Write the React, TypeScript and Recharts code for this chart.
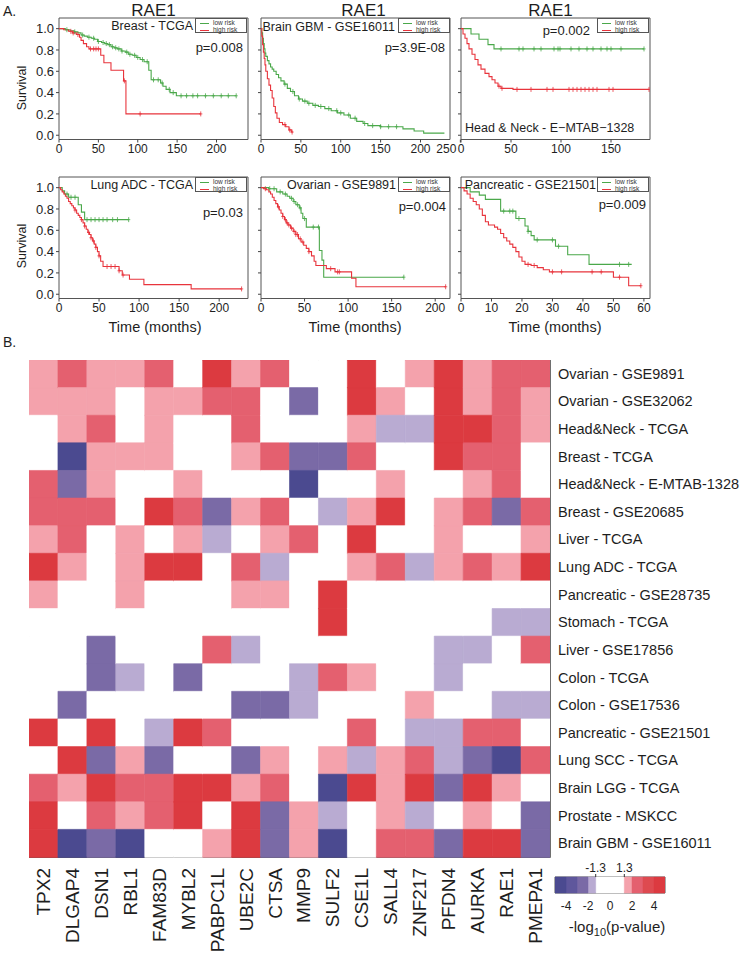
import React from "react";
import {
  ComposedChart,
  BarChart,
  Bar,
  Cell,
  Line,
  Scatter,
  XAxis,
  YAxis,
  ReferenceArea,
} from "recharts";

type Pt = [number, number];

const FONT = '"Liberation Sans", Arial, Helvetica, sans-serif';
const GREEN = "#4aa84a";
const RED = "#e8343c";

// ---- survival curves (time in months, survival fraction) ----
const brLow: Pt[] = [[0, 1], [8, 0.99], [14, 0.98], [19, 0.97], [24, 0.96], [28, 0.94], [32, 0.93], [36, 0.92], [41, 0.91], [45, 0.9], [49, 0.88], [54, 0.87], [58, 0.86], [62, 0.85], [66, 0.83], [70, 0.82], [74, 0.81], [79, 0.79], [84, 0.78], [88, 0.76], [93, 0.75], [98, 0.73], [103, 0.71], [108, 0.69], [114, 0.61], [117, 0.52], [129, 0.49], [132, 0.46], [136, 0.43], [141, 0.4], [149, 0.37], [225, 0.37]];
const brLowCens = [10, 20, 30, 38, 44, 50, 56, 60, 64, 68, 72, 76, 80, 86, 90, 96, 100, 106, 112, 120, 126, 131, 140, 145, 155, 162, 170, 176, 186, 196, 206, 215, 225];
const brHigh: Pt[] = [[0, 1], [6, 0.99], [12, 0.975], [17, 0.96], [22, 0.945], [26, 0.92], [28, 0.89], [31, 0.86], [35, 0.83], [38, 0.81], [53, 0.75], [57, 0.68], [66, 0.61], [82, 0.51], [85, 0.2], [180, 0.2]];
const brHighCens = [15, 18, 24, 40, 44, 47, 50, 83, 103, 180];

const gbmLow: Pt[] = [[0, 1], [1, 0.96], [2, 0.91], [3, 0.86], [4, 0.81], [5, 0.77], [6, 0.74], [8, 0.7], [10, 0.67], [12, 0.64], [14, 0.62], [16, 0.6], [19, 0.57], [22, 0.54], [25, 0.51], [29, 0.48], [33, 0.44], [37, 0.41], [42, 0.37], [47, 0.34], [52, 0.32], [58, 0.3], [65, 0.28], [72, 0.27], [80, 0.25], [88, 0.23], [96, 0.21], [104, 0.19], [112, 0.16], [120, 0.13], [128, 0.11], [134, 0.09], [150, 0.08], [178, 0.06], [192, 0.04], [204, 0.02], [230, 0.02]];
const gbmLowCens = [30, 40, 48, 55, 60, 68, 75, 85, 95, 100, 110, 118, 130, 140, 150, 160, 170];
const gbmHigh: Pt[] = [[0, 1], [1, 0.93], [2, 0.85], [3, 0.78], [4, 0.72], [5, 0.66], [6, 0.6], [8, 0.53], [10, 0.47], [12, 0.42], [14, 0.35], [16, 0.27], [18, 0.21], [20, 0.16], [23, 0.12], [27, 0.1], [31, 0.08], [35, 0.05], [38, 0.03], [40, 0.03]];
const gbmHighCens = [30, 36, 39];

const hnLow: Pt[] = [[0, 1], [10, 0.95], [18, 0.9], [27, 0.85], [33, 0.81], [183, 0.81]];
const hnLowCens = [40, 58, 62, 73, 80, 93, 97, 99, 110, 118, 126, 132, 140, 146, 150, 160, 183];
const hnHigh: Pt[] = [[0, 1], [2, 0.95], [4, 0.91], [6, 0.86], [8, 0.81], [11, 0.76], [14, 0.71], [17, 0.66], [20, 0.62], [24, 0.58], [28, 0.55], [31, 0.52], [34, 0.49], [37, 0.46], [40, 0.44], [52, 0.43], [188, 0.43]];
const hnHighCens = [38, 41, 56, 70, 86, 92, 108, 112, 116, 120, 124, 128, 132, 136, 148, 152, 188];

const luLow: Pt[] = [[0, 1], [4, 0.97], [7, 0.94], [12, 0.91], [24, 0.84], [28, 0.77], [32, 0.7], [87, 0.7]];
const luLowCens = [10, 15, 20, 35, 40, 45, 50, 55, 60, 67, 73, 87];
const luHigh: Pt[] = [[0, 1], [2, 0.98], [4, 0.96], [6, 0.94], [8, 0.92], [10, 0.9], [12, 0.87], [14, 0.85], [16, 0.83], [18, 0.81], [20, 0.79], [22, 0.76], [24, 0.74], [26, 0.72], [28, 0.7], [30, 0.67], [32, 0.64], [34, 0.61], [36, 0.58], [38, 0.56], [40, 0.53], [42, 0.5], [44, 0.47], [46, 0.44], [48, 0.4], [50, 0.36], [52, 0.31], [55, 0.26], [75, 0.22], [79, 0.18], [88, 0.14], [106, 0.09], [165, 0.05], [228, 0.05]];
const luHighCens = [20, 28, 32, 37, 40, 43, 46, 50, 60, 65, 70, 75, 80, 228];

const ovLow: Pt[] = [[0, 1], [9, 0.99], [18, 0.96], [25, 0.94], [30, 0.92], [33, 0.9], [37, 0.87], [40, 0.84], [44, 0.81], [46, 0.76], [48, 0.71], [52, 0.63], [67, 0.41], [70, 0.32], [72, 0.16], [164, 0.16]];
const ovLowCens = [10, 15, 22, 28, 35, 38, 42, 45, 50, 60, 66, 164];
const ovHigh: Pt[] = [[0, 1], [3, 0.99], [6, 0.98], [9, 0.96], [11, 0.94], [13, 0.91], [15, 0.88], [17, 0.85], [19, 0.82], [21, 0.79], [23, 0.76], [25, 0.73], [27, 0.7], [29, 0.67], [31, 0.65], [34, 0.62], [37, 0.59], [40, 0.56], [43, 0.52], [46, 0.49], [49, 0.46], [52, 0.43], [55, 0.4], [58, 0.36], [61, 0.31], [63, 0.27], [75, 0.24], [85, 0.21], [104, 0.15], [109, 0.07], [212, 0.07]];
const ovHighCens = [5, 20, 25, 28, 30, 32, 35, 38, 40, 42, 45, 48, 55, 80, 88, 90, 212];

const paLow: Pt[] = [[0, 1], [3, 0.96], [6, 0.93], [8, 0.89], [13, 0.78], [18, 0.71], [21, 0.64], [22, 0.59], [23, 0.55], [24, 0.51], [31, 0.45], [35, 0.37], [42, 0.28], [56, 0.28]];
const paLowCens = [14, 16, 17, 19, 22, 25, 30, 32, 52, 55];
const paHigh: Pt[] = [[0, 1], [1, 0.97], [2, 0.94], [3, 0.9], [4, 0.87], [5, 0.84], [6, 0.8], [7, 0.74], [8, 0.68], [9, 0.65], [11, 0.63], [12, 0.61], [13, 0.57], [14, 0.53], [15, 0.5], [16, 0.47], [17, 0.44], [18, 0.4], [19, 0.35], [20, 0.31], [21, 0.28], [23, 0.27], [25, 0.25], [27, 0.23], [29, 0.21], [50, 0.16], [55, 0.08], [59, 0.08]];
const paHighCens = [22, 24, 30, 33, 43, 46, 52, 59];

const survTicks = [0, 0.2, 0.4, 0.6, 0.8, 1.0];

// ---- heatmap ----
const genes = ["TPX2", "DLGAP4", "DSN1", "RBL1", "FAM83D", "MYBL2", "PABPC1L", "UBE2C", "CTSA", "MMP9", "SULF2", "CSE1L", "SALL4", "ZNF217", "PFDN4", "AURKA", "RAE1", "PMEPA1"];
const datasets = ["Ovarian - GSE9891", "Ovarian - GSE32062", "Head&Neck - TCGA", "Breast - TCGA", "Head&Neck - E-MTAB-1328", "Breast - GSE20685", "Liver - TCGA", "Lung ADC - TCGA", "Pancreatic - GSE28735", "Stomach - TCGA", "Liver - GSE17856", "Colon - TCGA", "Colon - GSE17536", "Pancreatic - GSE21501", "Lung SCC - TCGA", "Brain LGG - TCGA", "Prostate - MSKCC", "Brain GBM - GSE16011"];
// binned signed -log10(p): -3 strong protective ... 3 strong risk
const heat: number[][] = [
  [1, 2, 1, 1, 2, 0, 3, 1, 2, 0, 0, 3, 0, 1, 3, 1, 2, 2],
  [1, 1, 1, 0, 1, 1, 2, 2, 0, -2, 0, 3, 1, 0, 3, 1, 2, 1],
  [0, 1, 2, 0, 1, 0, 0, 2, 0, 0, 0, 1, -1, -1, 3, 3, 2, 1],
  [0, -3, 1, 1, 1, 0, 0, 1, 2, -2, -2, 2, 0, 0, 3, 2, 2, 0],
  [2, -2, 1, 0, 0, 1, 0, 0, 0, -3, 0, 0, 1, 0, 0, 1, 2, 0],
  [2, 2, 2, 0, 3, 2, -2, 1, 2, 0, -1, 1, 3, 0, 1, 2, -2, 2],
  [1, 2, 0, 1, 0, 1, -1, 0, 1, 2, 0, 3, 0, 0, 1, 0, 0, 1],
  [3, 1, 0, 1, 3, 3, 0, 2, -1, 0, 0, 1, 2, -1, 1, 2, 1, 3],
  [1, 0, 0, 1, 0, 0, 0, 1, 1, 0, 3, 0, 0, 0, 0, 0, 0, 0],
  [0, 0, 0, 0, 0, 0, 0, 0, 0, 0, 3, 0, 0, 0, 0, 0, -1, -1],
  [0, 0, -2, 0, 0, 0, 2, -1, 0, 0, 0, 0, 0, 0, -1, -1, 0, 2],
  [0, 0, -2, -1, 0, -2, 0, 0, 0, -1, 2, 1, 0, 0, -1, 0, 0, 0],
  [0, -2, 0, 0, 0, 0, 0, -2, -2, -1, 0, 0, 0, 1, 0, 0, -1, -1],
  [3, 0, 3, 0, -1, 3, 2, 0, 0, 0, 0, 2, 0, -1, -1, 2, 2, 0],
  [0, 3, -2, 1, -2, 0, 0, -2, 1, 0, 1, -1, 1, 2, -1, -2, -3, 2],
  [2, 1, 3, 2, 2, 3, 3, 1, 2, 0, -3, 3, 1, 3, -2, 3, 1, 0],
  [3, 0, 2, 1, 2, 3, 0, 3, -2, 1, -1, 0, 1, -1, 0, 1, 0, -2],
  [3, -3, -2, -3, 0, 0, 1, 3, -2, 1, -3, 0, 2, 2, -2, 3, 3, -2],
];
const levelColors: Record<string, string> = {
  "-3": "#4b4a90",
  "-2": "#7a6aa6",
  "-1": "#b9abd2",
  "0": "#ffffff",
  "1": "#f4a2ac",
  "2": "#e4606f",
  "3": "#dc3a40",
};

// colour key, bins stacked outward from 0
const cbNegEdges = [0, -1.3, -2, -3, -4, -5];
const cbNegColors = ["#ffffff", "#b9abd2", "#7a6aa6", "#5f579c", "#4b4a90"];
const cbPosEdges = [0, 1.3, 2, 3, 4, 5];
const cbPosColors = ["#ffffff", "#f4a2ac", "#e4606f", "#de4a50", "#dc3a40"];

const toObj = (pts: Pt[]) => pts.map(([t, s]) => ({ t, s }));
const stepAt = (pts: Pt[], t: number) => {
  let s = pts[0][1];
  for (const p of pts) if (p[0] <= t) s = p[1];
  return s;
};

const plus = (color: string) => (props: any) => {
  const { cx, cy } = props;
  if (cx == null || cy == null) return <g />;
  return (
    <path
      d={`M${cx},${cy - 2.5}V${cy + 2.5}M${cx - 1.6},${cy}H${cx + 1.6}`}
      stroke={color}
      strokeWidth={0.8}
      fill="none"
    />
  );
};

function T({ x, y, size = 12, anchor = "middle", children, style }: any) {
  const tx = anchor === "middle" ? "-50%" : anchor === "end" ? "-100%" : "0";
  return (
    <div
      style={{
        position: "absolute",
        left: x,
        top: y,
        fontSize: size,
        lineHeight: 1,
        whiteSpace: "nowrap",
        color: "#1e1e1e",
        transform: `translate(${tx}, -50%)`,
        ...style,
      }}
    >
      {children}
    </div>
  );
}

function RiskLegend({ x, y }: { x: number; y: number }) {
  const row = (c: string, label: string) => (
    <div style={{ display: "flex", alignItems: "center", height: 7 }}>
      <span style={{ display: "inline-block", width: 9, height: 0, borderTop: `1px solid ${c}`, margin: "0 4px 0 4px" }} />
      <span>{label}</span>
    </div>
  );
  return (
    <div
      style={{
        position: "absolute",
        left: x,
        top: y,
        width: 52,
        height: 15,
        border: "1px solid #555",
        background: "#fff",
        fontSize: 6.5,
        lineHeight: 1,
        color: "#333",
        paddingTop: 0.5,
        boxSizing: "border-box",
      }}
    >
      {row(GREEN, "low risk")}
      {row(RED, "high risk")}
    </div>
  );
}

// tick beyond the frame (the 250 of the GBM panel) is right-aligned so it
// sits next to the neighbour's 0 as in the original figure
function TimeTick({ x, y, payload, max }: any) {
  const over = payload.value > max;
  return (
    <text x={over ? x - 4 : x} y={y} dy="0.71em" textAnchor={over ? "end" : "middle"} fontSize={12} fill="#1e1e1e">
      {payload.value}
    </text>
  );
}

function KM({ x, y, w = 189, h = 121.5, domain, ticks, low, lowCens, high, highCens, yLabels }: any) {
  const YW = 45, MT = 5, MR = 22, XH = 22;
  const lowC = lowCens.map((t: number) => ({ t, s: stepAt(low, t) }));
  const highC = highCens.map((t: number) => ({ t, s: stepAt(high, t) }));
  return (
    <div style={{ position: "absolute", left: x - YW, top: y - MT }}>
      <ComposedChart width={YW + w + MR} height={MT + h + XH} margin={{ top: MT, right: MR, bottom: 0, left: 0 }}>
        <XAxis
          type="number"
          dataKey="t"
          domain={domain}
          ticks={ticks}
          allowDataOverflow
          interval={0}
          height={XH}
          axisLine={false}
          tickSize={3}
          tickLine={{ stroke: "#444" }}
          tick={(p: any) => <TimeTick {...p} max={domain[1]} />}
        />
        <YAxis
          type="number"
          dataKey="s"
          domain={[-0.04, 1.1]}
          ticks={survTicks}
          allowDataOverflow
          interval={0}
          width={YW}
          axisLine={false}
          tickSize={3}
          tickLine={{ stroke: "#444" }}
          tick={{ fontSize: 13, fill: "#1e1e1e" }}
          tickFormatter={(v: number) => (yLabels ? v.toFixed(1) : "")}
        />
        <ReferenceArea x1={domain[0]} x2={domain[1]} y1={-0.04} y2={1.1} fill="none" stroke="#555" strokeWidth={1} ifOverflow="visible" />
        <Line data={toObj(low)} dataKey="s" type="stepAfter" stroke={GREEN} strokeWidth={1.1} dot={false} activeDot={false} isAnimationActive={false} />
        <Line data={toObj(high)} dataKey="s" type="stepAfter" stroke={RED} strokeWidth={1.1} dot={false} activeDot={false} isAnimationActive={false} />
        <Scatter data={lowC} dataKey="s" shape={plus(GREEN)} isAnimationActive={false} />
        <Scatter data={highC} dataKey="s" shape={plus(RED)} isAnimationActive={false} />
      </ComposedChart>
    </div>
  );
}

function GeneTick({ x, y, payload }: any) {
  const i = Math.floor(payload.value);
  const yy = y + 3;
  return (
    <text x={x} y={yy} transform={`rotate(-90, ${x}, ${yy})`} textAnchor="end" dominantBaseline="central" fontSize={19} fill="#1e1e1e">
      {genes[i]}
    </text>
  );
}

function RowTick({ x, y, payload }: any) {
  return (
    <text x={x} y={y} textAnchor="start" dominantBaseline="central" fontSize={14.5} fill="#1e1e1e">
      {payload.value}
    </text>
  );
}

export default function App() {
  const heatData = datasets.map((name) => {
    const o: any = { name };
    genes.forEach((g) => (o[g] = 1));
    return o;
  });
  const geneTicks = genes.map((_, i) => i + 0.5);

  const cbKeys: { key: string; color: string }[] = [];
  const cbRow: any = { name: "key" };
  cbNegColors.forEach((c, i) => {
    cbRow["n" + i] = cbNegEdges[i + 1] - cbNegEdges[i];
    cbKeys.push({ key: "n" + i, color: c });
  });
  cbPosColors.forEach((c, i) => {
    cbRow["p" + i] = cbPosEdges[i + 1] - cbPosEdges[i];
    cbKeys.push({ key: "p" + i, color: c });
  });

  const W = 189;
  const c1 = 59, c2 = 261, c3 = 461;
  const r1 = 18, r2 = 177;

  return (
    <div style={{ position: "absolute", left: 0, top: 0, width: 746, height: 960, background: "#fff", overflow: "hidden", fontFamily: FONT }}>
      <T x={3} y={11} size={14} anchor="start">A.</T>
      <T x={c1 + W / 2} y={10} size={17}>RAE1</T>
      <T x={c2 + W / 2 + 8} y={10} size={17}>RAE1</T>
      <T x={c3 + W / 2 - 5} y={10} size={17}>RAE1</T>

      <KM x={c1} y={r1} domain={[0, 240]} ticks={[0, 50, 100, 150, 200]} low={brLow} lowCens={brLowCens} high={brHigh} highCens={brHighCens} yLabels />
      <KM x={c2} y={r1} domain={[0, 237]} ticks={[0, 50, 100, 150, 200, 250]} low={gbmLow} lowCens={gbmLowCens} high={gbmHigh} highCens={gbmHighCens} />
      <KM x={c3} y={r1} domain={[0, 189]} ticks={[0, 50, 100, 150]} low={hnLow} lowCens={hnLowCens} high={hnHigh} highCens={hnHighCens} />
      <KM x={c1} y={r2} domain={[0, 236]} ticks={[0, 50, 100, 150, 200]} low={luLow} lowCens={luLowCens} high={luHigh} highCens={luHighCens} yLabels />
      <KM x={c2} y={r2} domain={[0, 217]} ticks={[0, 50, 100, 150, 200]} low={ovLow} lowCens={ovLowCens} high={ovHigh} highCens={ovHighCens} />
      <KM x={c3} y={r2} domain={[0, 62]} ticks={[0, 10, 20, 30, 40, 50, 60]} low={paLow} lowCens={paLowCens} high={paHigh} highCens={paHighCens} />

      <RiskLegend x={c1 + W - 53} y={r1} />
      <RiskLegend x={c2 + W - 52} y={r1} />
      <RiskLegend x={c3 + W - 53} y={r1} />
      <RiskLegend x={c1 + W - 53} y={r2} />
      <RiskLegend x={c2 + W - 52} y={r2} />
      <RiskLegend x={c3 + W - 53} y={r2} />

      <T x={193} y={26} size={12.5} anchor="end">Breast - TCGA</T>
      <T x={395} y={27} size={12.5} anchor="end">Brain GBM - GSE16011</T>
      <T x={465} y={128} size={12.5} anchor="start">Head &amp; Neck - E−MTAB−1328</T>
      <T x={193} y={185} size={12.5} anchor="end">Lung ADC - TCGA</T>
      <T x={396} y={185} size={12.5} anchor="end">Ovarian - GSE9891</T>
      <T x={596} y={185} size={12.5} anchor="end">Pancreatic - GSE21501</T>

      <T x={243} y={47} size={13} anchor="end">p=0.008</T>
      <T x={445} y={47} size={13} anchor="end">p=3.9E-08</T>
      <T x={590} y={30} size={13} anchor="end">p=0.002</T>
      <T x={243} y={212} size={13} anchor="end">p=0.03</T>
      <T x={446} y={206} size={13} anchor="end">p=0.004</T>
      <T x={646} y={204} size={13} anchor="end">p=0.009</T>

      <T x={22} y={88} size={12.5} style={{ transform: "translate(-50%, -50%) rotate(-90deg)" }}>Survival</T>
      <T x={22} y={246} size={12.5} style={{ transform: "translate(-50%, -50%) rotate(-90deg)" }}>Survival</T>

      <T x={155} y={327} size={14.5}>Time (months)</T>
      <T x={355} y={327} size={14.5}>Time (months)</T>
      <T x={555} y={327} size={14.5}>Time (months)</T>

      <T x={3} y={342} size={14} anchor="start">B.</T>

      <div style={{ position: "absolute", left: 29, top: 360 }}>
        <BarChart
          layout="vertical"
          width={521 + 196}
          height={497 + 100}
          data={heatData}
          margin={{ top: 0, right: 0, bottom: 0, left: 0 }}
          barCategoryGap={0}
          barGap={0}
        >
          <XAxis type="number" domain={[0, 18]} ticks={geneTicks} interval={0} height={100} axisLine={false} tickLine={false} tick={<GeneTick />} allowDataOverflow />
          <YAxis type="category" dataKey="name" orientation="right" width={196} axisLine={false} tickLine={false} tick={<RowTick />} interval={0} />
          {genes.map((g, c) => (
            <Bar key={g} dataKey={g} stackId="h" isAnimationActive={false}>
              {datasets.map((_, r) => {
                const col = levelColors[String(heat[r][c])];
                return <Cell key={r} fill={col} stroke={col} strokeWidth={0.6} />;
              })}
            </Bar>
          ))}
          <ReferenceArea x1={0} x2={18} fill="none" stroke="#222" strokeWidth={1.3} ifOverflow="visible" />
        </BarChart>
      </div>

      <div style={{ position: "absolute", left: 535, top: 860 }}>
        <BarChart
          layout="vertical"
          width={150}
          height={52}
          data={[cbRow]}
          stackOffset="sign"
          barCategoryGap={0}
          margin={{ top: 0, right: 20, bottom: 0, left: 20 }}
        >
          <XAxis xAxisId="b" type="number" domain={[-5, 5]} ticks={[-4, -2, 0, 2, 4]} allowDataOverflow height={19} axisLine={false} tickLine={false} tick={{ fontSize: 12, fill: "#1e1e1e" }} interval={0} />
          <XAxis xAxisId="t" orientation="top" type="number" domain={[-5, 5]} ticks={[-1.3, 1.3]} allowDataOverflow height={17} axisLine={false} tickSize={3} tickLine={{ stroke: "#333" }} tick={{ fontSize: 12, fill: "#1e1e1e" }} interval={0} />
          <YAxis type="category" dataKey="name" hide />
          {cbKeys.map((k) => (
            <Bar key={k.key} xAxisId="b" dataKey={k.key} stackId="c" fill={k.color} stroke={k.color} strokeWidth={0.5} isAnimationActive={false} />
          ))}
          <ReferenceArea xAxisId="b" x1={-5} x2={5} fill="none" stroke="#555" ifOverflow="visible" />
        </BarChart>
      </div>
      <T x={617} y={928} size={15}>
        -log<sub style={{ fontSize: 11 }}>10</sub>(p-value)
      </T>
    </div>
  );
}
